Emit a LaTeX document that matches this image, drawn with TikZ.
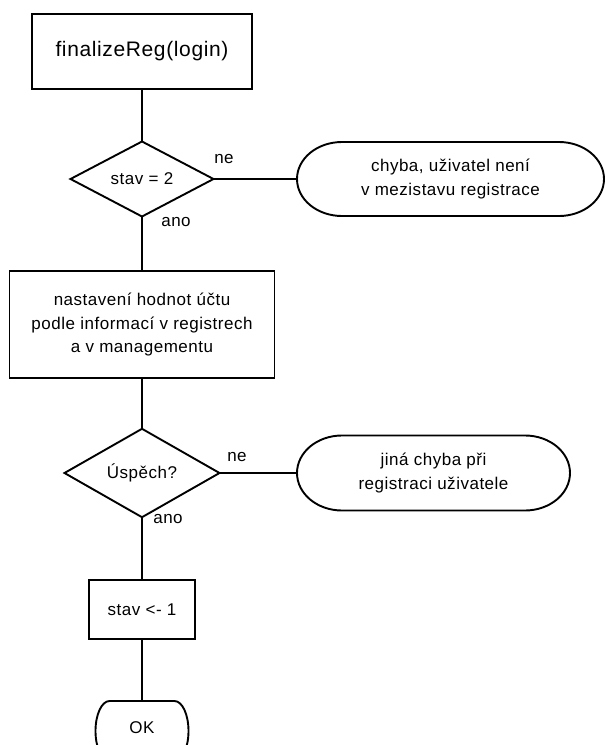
\documentclass[tikz,border=0pt]{standalone}
\usepackage{fontspec}
\setmainfont{Liberation Sans}[LetterSpace=3]
\usetikzlibrary{shapes.geometric}

\tikzset{
  base/.style={line width=1.9pt, font=\fontsize{17}{23.5}\selectfont,
    align=center, inner sep=0pt, outer sep=0pt},
  procbox/.style={base, draw, rectangle},
  decision/.style={base, draw, diamond},
  terminal/.style={base, rectangle},
  flow/.style={line width=1.9pt},
  lbl/.style={font=\fontsize{17}{20}\selectfont, inner sep=0pt},
}

% outline of a terminal: straight top and bottom, elliptic end caps
% #1 node, #2 horizontal radius of the caps, #3 half of the height
\newcommand\terminaloutline[3]{%
  \draw[flow] ([xshift=#2]#1.north west) -- ([xshift=-#2]#1.north east)
    arc[start angle=90, end angle=-90, x radius=#2, y radius=#3]
    -- ([xshift=#2]#1.south west)
    arc[start angle=270, end angle=90, x radius=#2, y radius=#3] -- cycle;}

\begin{document}
\begin{tikzpicture}[x=1pt, y=-1pt]
  \useasboundingbox (0,0) rectangle (605,745);
  \clip (0,0) rectangle (605,745);

  % steps
  \node[procbox, minimum width=220pt, minimum height=75pt,
        font=\fontsize{21}{25}\selectfont] (start) at (142,51.5) {finalizeReg(login)};
  \node[decision, minimum width=143pt, minimum height=75pt] (d1) at (142,179) {stav = 2};
  \node[terminal, minimum width=307pt, minimum height=74pt] (t1) at (450.5,179)
        {chyba, uživatel není\\v mezistavu registrace};
  \node[procbox, minimum width=265pt, minimum height=107pt] (set) at (142,324.5)
        {nastavení hodnot účtu\\podle informací v registrech\\a v managementu};
  \node[decision, minimum width=155pt, minimum height=79pt] (d2) at (142,473) {Úspěch?};
  \node[terminal, minimum width=273pt, minimum height=75pt] (t2) at (433.5,473)
        {jiná chyba při\\registraci uživatele};
  \node[procbox, minimum width=106pt, minimum height=59pt] (st) at (142,609.5) {stav <- 1};
  \node[terminal, minimum width=93pt, minimum height=60pt] (ok) at (142,731) {};
  \node[lbl] (oktext) at (142,728) {OK};

  % terminal outlines
  \terminaloutline{t1}{45pt}{37pt}
  \terminaloutline{t2}{45pt}{37.5pt}
  \terminaloutline{ok}{14pt}{30pt}

  % connectors
  \draw[flow] (start) -- (d1);
  \draw[flow] (d1) -- (t1);
  \draw[flow] (d1) -- (set);
  \draw[flow] (set) -- (d2);
  \draw[flow] (d2) -- (t2);
  \draw[flow] (d2) -- (st);
  \draw[flow] (st) -- (ok);

  % branch labels
  \node[lbl] (ne1) at (224,159) {ne};
  \node[lbl] (ano1) at (176,222) {ano};
  \node[lbl] (ne2) at (237,457) {ne};
  \node[lbl] (ano2) at (168,519) {ano};
\end{tikzpicture}
\end{document}
